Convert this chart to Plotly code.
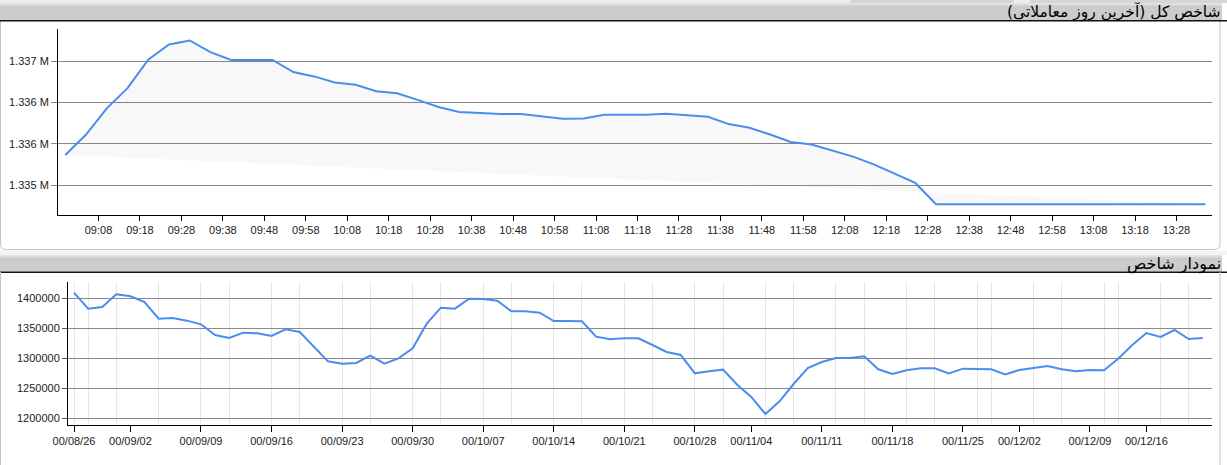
import plotly.graph_objects as go

# ---------------- data ----------------
intraday_day = "2022-03-15"
intraday_times = [
    "09:00", "09:05", "09:10", "09:15", "09:20", "09:25", "09:30", "09:35", "09:40", "09:45",
    "09:50", "09:55", "10:00", "10:05", "10:10", "10:15", "10:20", "10:25", "10:30", "10:35",
    "10:40", "10:45", "10:50", "10:55", "11:00", "11:05", "11:10", "11:15", "11:20", "11:25",
    "11:30", "11:35", "11:40", "11:45", "11:50", "11:55", "12:00", "12:05", "12:10", "12:15",
    "12:20", "12:25", "12:30", "12:35", "12:40", "12:45", "12:50", "12:55", "13:00", "13:05",
    "13:10", "13:15", "13:20", "13:25", "13:30", "13:35",
]
intraday_values = [
    1335866, 1336114, 1336431, 1336675, 1337020, 1337203, 1337252, 1337110, 1337016, 1337016,
    1337016, 1336870, 1336817, 1336744, 1336715, 1336638, 1336614, 1336533, 1336447, 1336386,
    1336374, 1336362, 1336362, 1336329, 1336305, 1336309, 1336354, 1336354, 1336354, 1336366,
    1336346, 1336329, 1336240, 1336195, 1336114, 1336024, 1335992, 1335919, 1335846, 1335752,
    1335638, 1335528, 1335270, 1335270, 1335270, 1335270, 1335270, 1335270, 1335270, 1335270,
    1335270, 1335270, 1335270, 1335270, 1335270, 1335270,
]
intraday_tickvals = [1335500, 1336000, 1336500, 1337000]
intraday_ticktext = ["1.335 M", "1.336 M", "1.336 M", "1.337 M"]

daily_values = [
    1409400, 1382800, 1385600, 1406700, 1403300, 1393900, 1366100, 1367200, 1362800, 1356700,
    1338900, 1333900, 1342800, 1341700, 1337200, 1348300, 1343900, 1320000, 1295000, 1291100,
    1292200, 1304400, 1291100, 1300000, 1316700, 1357800, 1384400, 1382800, 1399400, 1398900,
    1396100, 1378300, 1378300, 1376100, 1362200, 1362200, 1361700, 1336100, 1331700, 1333300,
    1333300, 1322200, 1310600, 1305600, 1275000, 1278300, 1281100, 1256100, 1235600, 1207200,
    1228300, 1257200, 1283900, 1293900, 1300600, 1300600, 1303300, 1281700, 1273900, 1280000,
    1283300, 1283300, 1275000, 1282800, 1281700, 1281700, 1273300, 1280600, 1283900, 1287200,
    1281700, 1278300, 1280600, 1280000, 1299400, 1322200, 1342200, 1335600, 1347200, 1332200,
    1333900,
]
daily_tick_labels = ["00/08/26", "00/09/02", "00/09/09", "00/09/16", "00/09/23", "00/09/30",
                     "00/10/07", "00/10/14", "00/10/21", "00/10/28", "00/11/04", "00/11/11",
                     "00/11/18", "00/11/25", "00/12/02", "00/12/09", "00/12/16"]
daily_tick_pos = [0, 4, 9, 14, 19, 24, 29, 34, 39, 44, 48, 53, 58, 63, 67, 72, 76]
daily_grid_pos = [0, 1, 3, 6, 9, 11, 14, 16, 19, 21, 24, 26, 29, 31, 34, 36, 39, 41, 44, 46,
                  49, 51, 54, 56, 59, 61, 64, 65, 68, 70, 73, 74, 77, 79]
daily_yticks = [1200000, 1250000, 1300000, 1350000, 1400000]

title_top = "شاخص کل (آخرین روز معاملاتی)"
title_bottom = "نمودار شاخص"

# ---------------- figure ----------------
W, H = 1227, 465
def px(x):
    return x / W
def py(y):
    return 1 - y / H

LINE = "#4a8ded"
TICKFONT = dict(family="Liberation Sans, Arial, sans-serif", size=11, color="#222")

fig = go.Figure()
fig.add_trace(go.Scatter(
    x=[f"{intraday_day} {t}" for t in intraday_times], y=intraday_values,
    mode="lines", line=dict(color=LINE, width=2),
    fill="toself", fillcolor="rgba(0,0,0,0.028)",
    xaxis="x", yaxis="y", hoverinfo="skip", showlegend=False))
fig.add_trace(go.Scatter(
    x=list(range(len(daily_values))), y=daily_values,
    mode="lines", line=dict(color=LINE, width=2),
    xaxis="x2", yaxis="y2", hoverinfo="skip", showlegend=False))

shapes = []
# strip at very top (tabs of panel above)
shapes.append(dict(type="rect", xref="paper", yref="paper", x0=0, x1=1, y0=py(3), y1=py(0),
                   fillcolor="#efefef", line=dict(width=0), layer="below"))
shapes.append(dict(type="rect", xref="paper", yref="paper", x0=px(850), x1=px(1014), y0=py(3), y1=py(0),
                   fillcolor="#d6d6d6", line=dict(width=0), layer="below"))
shapes.append(dict(type="rect", xref="paper", yref="paper", x0=px(1030), x1=1, y0=py(3), y1=py(0),
                   fillcolor="#d6d6d6", line=dict(width=0), layer="below"))
# panel 1 body
shapes.append(dict(type="path", xref="paper", yref="paper",
                   path=f"M {px(0.5)},{py(20)} L {px(0.5)},{py(244)} Q {px(0.5)},{py(249.5)} {px(6)},{py(249.5)} "
                        f"L {px(1214)},{py(249.5)} Q {px(1220)},{py(249.5)} {px(1220)},{py(244)} L {px(1220)},{py(20)} Z",
                   fillcolor="white", line=dict(color="#c4c4c4", width=1), layer="below"))
# gap between panels
shapes.append(dict(type="rect", xref="paper", yref="paper", x0=0, x1=1, y0=py(255), y1=py(250.5),
                   fillcolor="#f3f3f3", line=dict(width=0), layer="below"))
# headers
for top, bot in [(3.5, 20), (255.5, 271.5)]:
    shapes.append(dict(type="rect", xref="paper", yref="paper", x0=0, x1=px(1222), y0=py(bot), y1=py(top),
                       fillcolor="#cccccc", line=dict(width=0), layer="below"))
    shapes.append(dict(type="rect", xref="paper", yref="paper", x0=0, x1=px(1222), y0=py(top + 2), y1=py(top),
                       fillcolor="#dedede", line=dict(width=0), layer="below"))
    shapes.append(dict(type="line", xref="paper", yref="paper", x0=0, x1=1, y0=py(bot + 0.7), y1=py(bot + 0.7),
                       line=dict(color="#111", width=1.5), layer="below"))
# panel 2 borders
shapes.append(dict(type="line", xref="paper", yref="paper", x0=px(0.5), x1=px(0.5), y0=py(272), y1=0,
                   line=dict(color="#c4c4c4", width=1), layer="below"))
shapes.append(dict(type="line", xref="paper", yref="paper", x0=px(1220), x1=px(1220), y0=py(272), y1=0,
                   line=dict(color="#c4c4c4", width=1), layer="below"))

annotations = [
    dict(text=title_top, xref="paper", yref="paper", x=px(1223), y=py(12), xanchor="right", yanchor="middle",
         showarrow=False, font=dict(family="DejaVu Sans, sans-serif", size=15.5, color="#000")),
    dict(text=title_bottom, xref="paper", yref="paper", x=px(1223), y=py(264), xanchor="right", yanchor="middle",
         showarrow=False, font=dict(family="DejaVu Sans, sans-serif", size=16, color="#000")),
]

fig.update_layout(
    template="none",
    width=W, height=H, margin=dict(l=0, r=0, t=0, b=0, pad=0), autosize=False,
    paper_bgcolor="white", plot_bgcolor="rgba(0,0,0,0)",
    showlegend=False, shapes=shapes, annotations=annotations,
    xaxis=dict(domain=[px(58), px(1211.7)], type="date", automargin=False,
               range=[f"{intraday_day} 08:58:14", f"{intraday_day} 13:36:30"],
               tick0=f"{intraday_day} 09:08", dtick=600000, tickformat="%H:%M",
               showline=True, linecolor="#000", linewidth=1, ticks="outside", ticklen=5,
               tickcolor="#000", showgrid=False, zeroline=False, tickfont=TICKFONT),
    yaxis=dict(domain=[py(215), py(29.3)], range=[1335140, 1337387], automargin=False,
               tickmode="array", tickvals=intraday_tickvals, ticktext=intraday_ticktext,
               showline=True, linecolor="#000", linewidth=1, ticks="outside", ticklen=6,
               tickcolor="#888", showgrid=True, gridcolor="#8a8a8a", gridwidth=1,
               zeroline=False, tickfont=TICKFONT),
    xaxis2=dict(domain=[px(68), px(1212)], range=[-0.425, 80.65], anchor="y2", automargin=False,
                tickmode="array", tickvals=daily_tick_pos, ticktext=daily_tick_labels,
                showline=True, linecolor="#000", linewidth=1, ticks="outside", ticklen=6,
                tickcolor="#000", showgrid=False, zeroline=False, tickfont=TICKFONT,
                minor=dict(tickmode="array", tickvals=daily_grid_pos, showgrid=True,
                           gridcolor="#e6e6e6", gridwidth=1, ticks="")),
    yaxis2=dict(domain=[py(425), py(282)], range=[1188900, 1427200], anchor="x2", automargin=False,
                tickmode="array", tickvals=daily_yticks, ticktext=[str(v) for v in daily_yticks],
                showline=True, linecolor="#000", linewidth=1, ticks="outside", ticklen=5,
                tickcolor="#555", showgrid=True, gridcolor="#8a8a8a", gridwidth=1,
                zeroline=False, tickfont=TICKFONT),
)

fig.write_html("out.html", config={"displayModeBar": False},
               post_script="document.body.style.margin='0px';document.body.style.overflow='hidden';")
